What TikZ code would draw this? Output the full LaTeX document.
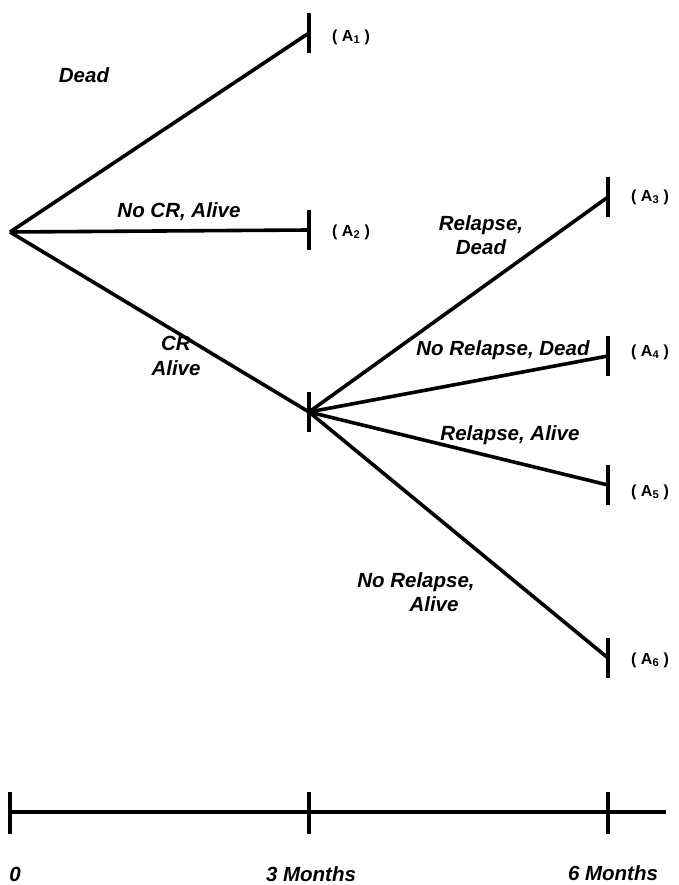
\documentclass[tikz,border=0pt]{standalone}
\usepackage{fontspec}
\setmainfont{Liberation Sans}
\begin{document}
\begin{tikzpicture}[x=1pt,y=-1pt,
  branch/.style={line width=3.6pt},
  tickmark/.style={line width=3.6pt},
  lbl/.style={font=\fontsize{20.5}{24.5}\selectfont\bfseries\itshape, inner sep=0pt, align=center},
  endlbl/.style={font=\fontsize{16}{18}\selectfont\bfseries, inner sep=0pt, anchor=west},
  axlbl/.style={font=\fontsize{20.5}{22}\selectfont\bfseries\itshape, inner sep=0pt}]
\useasboundingbox (0,0) rectangle (679,885);
% points
\coordinate (root) at (10,232);
\coordinate (a1) at (309,33);
\coordinate (a2) at (309,230);
\coordinate (cr) at (309,412);
\coordinate (a3) at (608,197);
\coordinate (a4) at (608,356);
\coordinate (a5) at (608,485);
\coordinate (a6) at (608,658);
% branches
\draw[branch] (root) -- (a1);
\draw[branch] (root) -- (a2);
\draw[branch] (root) -- (cr);
\draw[branch] (cr) -- (a3);
\draw[branch] (cr) -- (a4);
\draw[branch] (cr) -- (a5);
\draw[branch] (cr) -- (a6);
% ticks
\foreach \p in {a1,a2,cr,a3,a4,a5,a6}
  \draw[tickmark] (\p) ++(0,-20) -- ++(0,40);
% end labels
\node[endlbl] (l1) at (332,37) {( A\textsubscript{1} )};
\node[endlbl] (l2) at (332,232) {( A\textsubscript{2} )};
\node[endlbl] (l3) at (631,197) {( A\textsubscript{3} )};
\node[endlbl] (l4) at (631,352) {( A\textsubscript{4} )};
\node[endlbl] (l5) at (631,492) {( A\textsubscript{5} )};
\node[endlbl] (l6) at (631,660) {( A\textsubscript{6} )};
% branch labels
\node[lbl] (t1) at (84,75) {Dead};
\node[lbl] (t2) at (179,212) {No CR, Alive};
\node[lbl] (t3) at (176,356) {CR\\Alive};
\node[lbl] (t4) at (481,235) {Relapse,\\Dead};
\node[lbl] (t5) at (503,350) {No Relapse, Dead};
\node[lbl] (t6) at (510,435) {Relapse, Alive};
\node[lbl] (t7) at (416,592) {No Relapse,\\\hspace*{36pt}Alive};
% axis
\coordinate (x0) at (10,812);
\coordinate (x3) at (309,812);
\coordinate (x6) at (608,812);
\coordinate (xe) at (666,812);
\draw[tickmark] (x0) -- (xe);
\foreach \p in {x0,x3,x6}
  \draw[tickmark] (\p) ++(0,-20) -- ++(0,42);
\node[axlbl] (n0) at (15,874) {0};
\node[axlbl] (n3) at (311,874) {3 Months};
\node[axlbl] (n6) at (613,873) {6 Months};
\end{tikzpicture}
\end{document}
